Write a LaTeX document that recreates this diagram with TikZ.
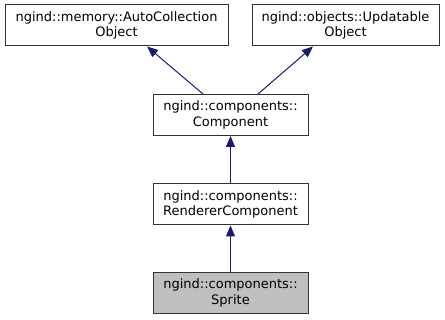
\documentclass[tikz,border=0pt]{standalone}
\usepackage{fontspec}
\setmainfont{DejaVu Sans}
\usepackage{tikz}
\usetikzlibrary{arrows.meta}
\definecolor{edgeblue}{HTML}{191970}
\definecolor{selgray}{HTML}{BFBFBF}

\begin{document}
\begin{tikzpicture}[
		x=1pt, y=-1pt,
		ClassBox/.style={draw=black!80,line width=1pt,fill=white,inner sep=0pt,
			align=center,font=\fontsize{13}{15.5}\selectfont,minimum height=41pt},
		Inherit/.style={draw=edgeblue,line width=1pt,
			-{Triangle[length=11pt, width=9pt]}, >=stealth}
		]

		\useasboundingbox (0,0) rectangle (445,320);

		% base classes
		\node[ClassBox, minimum width=223pt] (autoobj) at (116.5,25.5)
			{ngind::memory::AutoCollection\\Object};
		\node[ClassBox, minimum width=187pt] (updobj) at (345.5,25.5)
			{ngind::objects::Updatable\\Object};

		% component chain
		\node[ClassBox, minimum width=155pt] (comp) at (230.5,115)
			{ngind::components::\\Component};
		\node[ClassBox, minimum width=155pt] (rendcomp) at (230.5,204.5)
			{ngind::components::\\RendererComponent};
		\node[ClassBox, minimum width=155pt, fill=selgray] (sprite) at (230.5,293)
			{ngind::components::\\Sprite};

		\draw[Inherit] ([xshift=-27.5pt]comp.north) -- ([xshift=30.5pt]autoobj.south);
		\draw[Inherit] ([xshift=27.5pt]comp.north) -- ([xshift=-32.5pt]updobj.south);
		\draw[Inherit] (rendcomp) -- (comp);
		\draw[Inherit] (sprite) -- (rendcomp);

\end{tikzpicture}
\end{document}
